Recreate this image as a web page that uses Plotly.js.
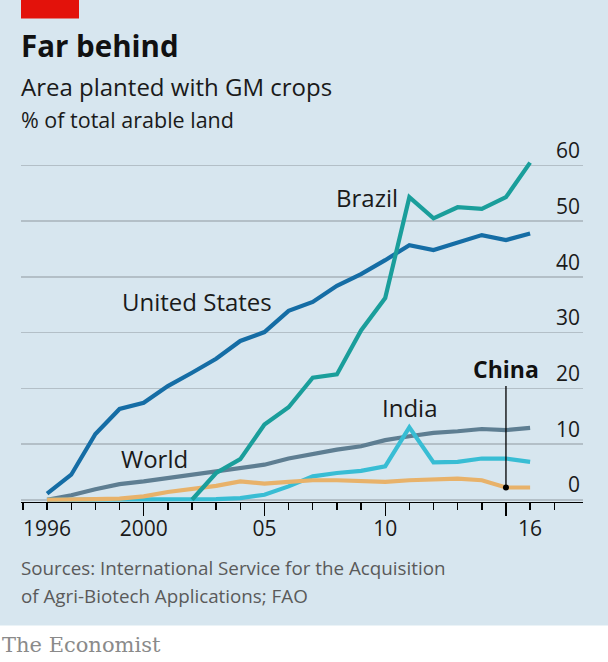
<!DOCTYPE html>
<html>
<head>
<meta charset="utf-8">
<script src="https://cdn.plot.ly/plotly-3.0.1.min.js"></script>
<style>
  html, body { margin: 0; padding: 0; background: #ffffff; }
  #chart { width: 608px; height: 662px; }
</style>
</head>
<body>
<div id="chart"></div>
<script>
// ---- Data ----
const years = [1996, 1997, 1998, 1999, 2000, 2001, 2002, 2003, 2004, 2005, 2006,
               2007, 2008, 2009, 2010, 2011, 2012, 2013, 2014, 2015, 2016];
const unitedStates = [1.1, 4.5, 11.8, 16.3, 17.4, 20.4, 22.8, 25.3, 28.5, 30.1, 33.9,
                      35.5, 38.4, 40.5, 43.0, 45.7, 44.8, 46.2, 47.5, 46.6, 47.8];
const brazil = [null, null, null, null, null, null, 0, 4.8, 7.3, 13.5, 16.6,
                21.9, 22.5, 30.4, 36.2, 54.3, 50.5, 52.5, 52.2, 54.3, 60.5];
const world = [0, 0.8, 1.9, 2.8, 3.3, 3.9, 4.5, 5.1, 5.7, 6.3, 7.4,
               8.2, 9.0, 9.6, 10.7, 11.4, 12.0, 12.3, 12.7, 12.5, 12.9];
const india = [0, 0, 0, 0, 0, 0, 0, 0.1, 0.3, 0.9, 2.4,
               4.2, 4.8, 5.2, 6.0, 13.0, 6.7, 6.8, 7.4, 7.4, 6.8];
const china = [0, 0, 0.1, 0.2, 0.6, 1.4, 1.9, 2.5, 3.3, 2.9, 3.2,
               3.5, 3.5, 3.4, 3.2, 3.5, 3.6, 3.8, 3.5, 2.2, 2.2];
const xTickVals = [1996, 2000, 2005, 2010, 2016];
const xTickText = ["1996", "2000", "05", "10", "16"];
const xMajorTicks = [2000, 2005, 2010, 2015];
const yTickVals = [0, 10, 20, 30, 40, 50, 60];
const chinaPointerYear = 2015;

// ---- Styling ----
const BG = "#d7e6ef";
const FONT = "'Open Sans', 'Noto Sans', sans-serif";
const TXT = "#1a1a1a";

function line(name, y, color) {
  return {
    type: "scatter", mode: "lines", name: name,
    x: years, y: y, connectgaps: false,
    line: { color: color, width: 4.2, shape: "linear" },
    hoverinfo: "skip", showlegend: false
  };
}

const chinaIdx = years.indexOf(chinaPointerYear);

const traces = [
  line("World", world, "#5e7e92"),
  line("United States", unitedStates, "#156da5"),
  line("India", india, "#38bdd4"),
  line("China", china, "#e8b26a"),
  line("Brazil", brazil, "#1a9e9b"),
  {
    type: "scatter", mode: "markers",
    x: [years[chinaIdx]], y: [china[chinaIdx]],
    marker: { color: "#000000", size: 6 },
    hoverinfo: "skip", showlegend: false, cliponaxis: false
  },
  {
    type: "scatter", mode: "lines", x: [years[0]], y: [0], xaxis: "x2",
    line: { width: 0 }, hoverinfo: "skip", showlegend: false
  }
];

// Plot geometry: plot area x 21..583 px; y=0 at 500 px, 5.58 px per unit
const yMin = -0.4, yMax = 66;
const L = 21, R = 25, B = 662 - (500 + (-yMin) * 5.58);
const T = 662 - B - (yMax - yMin) * 5.58;
const plotH = 662 - T - B;
const pyPaper = px => (662 - B - px) / plotH;
const pxPaper = px => (px - L) / (608 - L - R);

const layout = {
  width: 608, height: 662,
  margin: { l: L, r: R, t: T, b: B, pad: 0 },
  paper_bgcolor: BG, plot_bgcolor: "rgba(0,0,0,0)",
  font: { family: FONT, color: TXT },
  showlegend: false,
  xaxis: {
    range: [1994.92, 2018.19],
    tickvals: xTickVals, ticktext: xTickText,
    ticks: "", showgrid: false, zeroline: false,
    showline: true, linecolor: "#000000", linewidth: 1.4,
    ticklabelstandoff: 7,
    tickfont: { size: 21, color: TXT, family: FONT },
    minor: { dtick: 1, tick0: 1996, ticks: "outside", ticklen: 7, tickcolor: "#000000", tickwidth: 1.4, showgrid: false },
    fixedrange: true
  },
  xaxis2: {
    overlaying: "x", matches: "x", range: [1994.92, 2018.19],
    tickvals: xMajorTicks, ticks: "outside", ticklen: 13, tickwidth: 1.4, tickcolor: "#000000",
    showticklabels: false, showgrid: false, zeroline: false, showline: false, side: "bottom"
  },
  yaxis: {
    range: [yMin, yMax],
    side: "right",
    tickvals: yTickVals,
    ticklabelposition: "inside top",
    ticks: "",
    showgrid: true, gridcolor: "#b3bfc7", gridwidth: 1.5,
    zeroline: false, showline: false,
    tickfont: { size: 21, color: TXT, family: FONT },
    fixedrange: true
  },
  shapes: [
    { type: "rect", xref: "paper", yref: "paper", x0: -0.1, x1: 1.1,
      y0: pyPaper(626), y1: pyPaper(700), fillcolor: "#ffffff", line: { width: 0 }, layer: "below" },
    { type: "rect", xref: "paper", yref: "paper", x0: pxPaper(21), x1: pxPaper(79),
      y0: pyPaper(18), y1: pyPaper(-5), fillcolor: "#e3120b", line: { width: 0 }, layer: "below" }
  ],
  annotations: [
    { text: "<b>Far behind</b>", xref: "paper", yref: "paper", x: pxPaper(19), y: pyPaper(45),
      xanchor: "left", yanchor: "middle", showarrow: false, font: { size: 29.5, color: "#111111", family: FONT } },
    { text: "Area planted with GM crops", xref: "paper", yref: "paper", x: pxPaper(19), y: pyPaper(86),
      xanchor: "left", yanchor: "middle", showarrow: false, font: { size: 24, color: TXT, family: FONT } },
    { text: "% of total arable land", xref: "paper", yref: "paper", x: pxPaper(19), y: pyPaper(119),
      xanchor: "left", yanchor: "middle", showarrow: false, font: { size: 21.5, color: TXT, family: FONT } },
    { text: "Brazil", x: 2009.23, y: 54.3, xanchor: "center", yanchor: "middle", showarrow: false,
      font: { size: 24, color: TXT, family: FONT } },
    { text: "United States", x: 2002.19, y: 35.5, xanchor: "center", yanchor: "middle", showarrow: false,
      font: { size: 24, color: TXT, family: FONT } },
    { text: "World", x: 2000.45, y: 7.4, xanchor: "center", yanchor: "middle", showarrow: false,
      font: { size: 24, color: TXT, family: FONT } },
    { text: "India", x: 2011.03, y: 16.5, xanchor: "center", yanchor: "middle", showarrow: false,
      font: { size: 24, color: TXT, family: FONT } },
    { text: "<b>China</b>", x: years[chinaIdx], y: china[chinaIdx], ax: 0, ay: -119,
      showarrow: true, arrowhead: 0, arrowwidth: 1.3, arrowcolor: "#000000", standoff: 0, startstandoff: 0,
      font: { size: 23, color: "#111111", family: FONT } },
    { text: "Sources: International Service for the Acquisition",
      xref: "paper", yref: "paper", x: pxPaper(19), y: pyPaper(568),
      xanchor: "left", yanchor: "middle", align: "left", showarrow: false,
      font: { size: 18.8, color: "#5a5a5a", family: FONT } },
    { text: "of Agri-Biotech Applications; FAO",
      xref: "paper", yref: "paper", x: pxPaper(19), y: pyPaper(596),
      xanchor: "left", yanchor: "middle", align: "left", showarrow: false,
      font: { size: 18.8, color: "#5a5a5a", family: FONT } },
    { text: "The Economist", xref: "paper", yref: "paper", x: pxPaper(0), y: pyPaper(645),
      xanchor: "left", yanchor: "middle", showarrow: false,
      font: { size: 21, color: "#8a8a8a", family: "'DejaVu Serif', 'Liberation Serif', serif" } }
  ]
};

Plotly.newPlot("chart", traces, layout, { displayModeBar: false, staticPlot: true });
</script>
</body>
</html>
